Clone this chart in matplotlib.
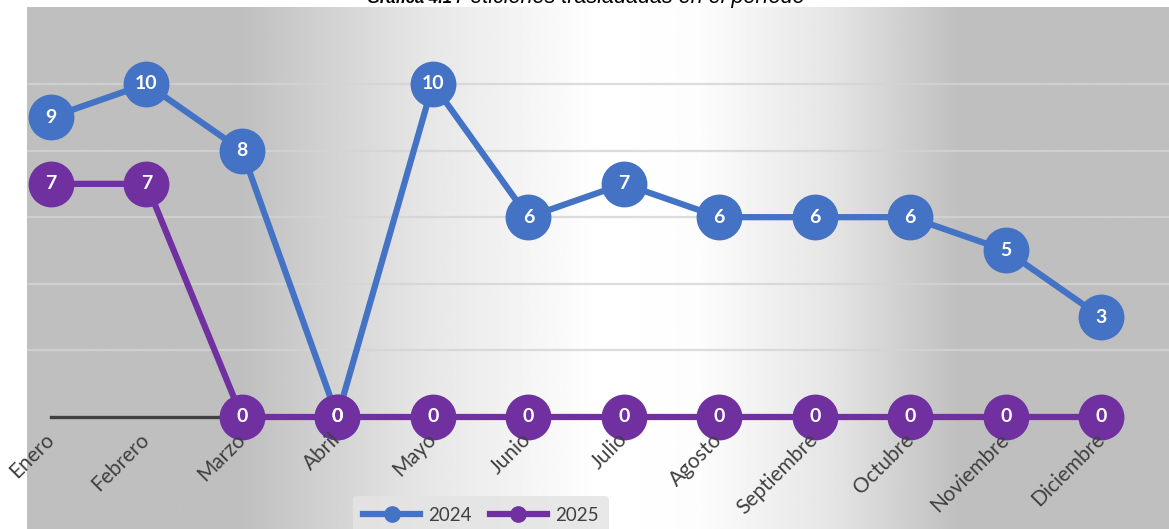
import numpy as np
import matplotlib
matplotlib.use("Agg")
import matplotlib.pyplot as plt
from matplotlib.lines import Line2D

meses = ["Enero", "Febrero", "Marzo", "Abril", "Mayo", "Junio", "Julio",
         "Agosto", "Septiembre", "Octubre", "Noviembre", "Diciembre"]
v2024 = [9, 10, 8, 0, 10, 6, 7, 6, 6, 6, 5, 3]
v2025 = [7, 7, 0, 0, 0, 0, 0, 0, 0, 0, 0, 0]

azul = "#4472C4"
morado = "#7030A0"
gris_txt = "#404040"

plt.rcParams['font.family'] = ['Lato', 'DejaVu Sans']

W, H = 1169, 529
fig = plt.figure(figsize=(W / 100, H / 100), dpi=100)
fig.patch.set_facecolor("white")

# chart area (gray with light band in the middle)
ax = fig.add_axes([27 / W, 0, 1 - 27 / W, (H - 7) / H])
x = np.arange(len(meses))
ax.set_xlim(-0.251, 11.71)
ax.set_ylim(-3.363, 12.31)

px = np.linspace(27, W, 600)
prof = np.interp(px, [27, 240, 420, 600, 700, 830, 960, W],
                 [0.749, 0.749, 0.90, 1.0, 0.99, 0.90, 0.749, 0.749])
grad = np.tile(prof, (10, 1))
ax.imshow(grad, cmap="gray", vmin=0, vmax=1, aspect="auto",
          extent=[-0.251, 11.71, -3.363, 12.31], zorder=0, interpolation="bilinear")

for g in [2, 4, 6, 8, 10]:
    ax.axhline(g, color="#d4d4d4", lw=1.6, alpha=0.8, zorder=1)

for s in ["top", "left", "right"]:
    ax.spines[s].set_visible(False)
ax.spines["bottom"].set_position(("data", 0))
ax.spines["bottom"].set_bounds(0, 11)
ax.spines["bottom"].set_color(gris_txt)
ax.spines["bottom"].set_linewidth(2.4)
ax.spines["bottom"].set_zorder(2)
ax.set_yticks([])
ax.set_xticks(x)
ax.set_xticklabels(meses, rotation=45, ha="right", va="center",
                   rotation_mode="anchor", color=gris_txt, fontsize=15)
ax.tick_params(axis="x", length=0, pad=14)
ax.xaxis.set_zorder(7)

ax.plot(x, v2024, color=azul, lw=4.5, marker="o", ms=32, zorder=3, clip_on=False)
ax.plot(x, v2025, color=morado, lw=4.5, marker="o", ms=32, zorder=4, clip_on=False)

for xi, v in zip(x, v2024):
    ax.text(xi, v, str(v), color="white", fontsize=14, fontweight="bold",
            ha="center", va="center", zorder=5)
for xi, v in zip(x, v2025):
    ax.text(xi, v, str(v), color="white", fontsize=14, fontweight="bold",
            ha="center", va="center", zorder=6)

handles = [Line2D([], [], color=azul, lw=4.5, marker="o", ms=11),
           Line2D([], [], color=morado, lw=4.5, marker="o", ms=11)]
leg = fig.legend(handles, ["2024", "2025"], loc="upper center",
                 bbox_to_anchor=(481 / W, 1 - 487 / H), ncol=2, frameon=True,
                 fontsize=13.5, handlelength=3.0, columnspacing=1.0,
                 borderpad=0.55, handletextpad=0.45)
leg.get_frame().set_facecolor("#e4e4e4")
leg.get_frame().set_edgecolor("none")
leg.get_frame().set_alpha(0.85)
for t in leg.get_texts():
    t.set_color(gris_txt)

# title, mostly cut off at the top edge in the original
fig.text(452 / W, 1 - 3 / H, "Gráfica 4.1", ha="right", va="baseline",
         fontsize=12, fontweight="bold", style="italic",
         family="Liberation Sans", color="black")
fig.text(456 / W, 1 - 3 / H, "Peticiones trasladadas en el período", ha="left",
         va="baseline", fontsize=15.5, style="italic", family="Liberation Sans",
         color="black")

fig.savefig("out.png", dpi=100)
